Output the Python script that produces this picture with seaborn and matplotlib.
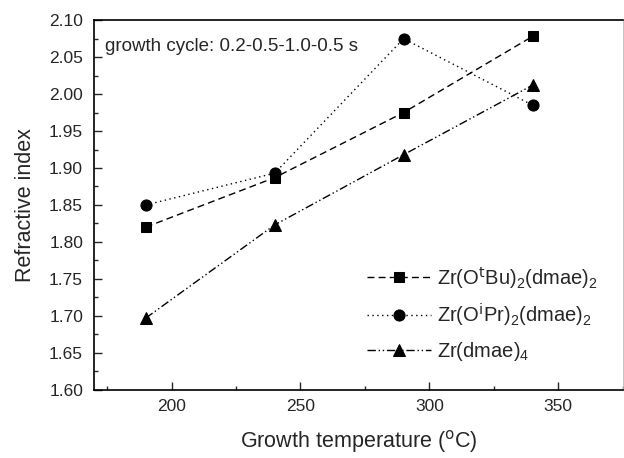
import matplotlib
matplotlib.use("Agg")
import matplotlib.pyplot as plt
from matplotlib.ticker import MultipleLocator
import seaborn as sns
import pandas as pd

# Growth temperatures (°C) and refractive index per precursor
temperature = [190, 240, 290, 340]
zr_otbu = [1.820, 1.887, 1.975, 2.078]
zr_oipr = [1.850, 1.893, 2.075, 1.985]
zr_dmae4 = [1.697, 1.823, 1.918, 2.012]

labels = [
    r"Zr(O$^{\rm t}$Bu)$_{2}$(dmae)$_{2}$",
    r"Zr(O$^{\rm i}$Pr)$_{2}$(dmae)$_{2}$",
    r"Zr(dmae)$_{4}$",
]
series = [zr_otbu, zr_oipr, zr_dmae4]

sns.set_style("ticks")
plt.rcParams["font.family"] = ["Liberation Sans", "DejaVu Sans"]
plt.rcParams["mathtext.default"] = "regular"
plt.rcParams["xtick.direction"] = "in"
plt.rcParams["ytick.direction"] = "in"

fig = plt.figure(figsize=(6.24, 4.58), dpi=100)
ax = fig.add_axes([0.151, 0.149, 0.847, 0.807])

styles = [
    dict(marker="s", linestyle=(0, (5, 3)), markersize=7),
    dict(marker="o", linestyle=(0, (1, 2.5)), markersize=8),
    dict(marker="^", linestyle=(0, (6, 2, 1, 2, 1, 2)), markersize=8),
]

for vals, lab, st in zip(series, labels, styles):
    df = pd.DataFrame({"temperature": temperature, "index": vals})
    sns.lineplot(data=df, x="temperature", y="index", ax=ax, color="black",
                 linewidth=1.0, marker=st["marker"], markersize=st["markersize"],
                 linestyle=st["linestyle"], markeredgecolor="black",
                 markerfacecolor="black", label=lab)

ax.set_xlim(170, 375)
ax.set_ylim(1.60, 2.10)
ax.xaxis.set_major_locator(MultipleLocator(50))
ax.xaxis.set_minor_locator(MultipleLocator(25))
ax.yaxis.set_major_locator(MultipleLocator(0.05))
ax.yaxis.set_minor_locator(MultipleLocator(0.025))
ax.yaxis.set_major_formatter(plt.FormatStrFormatter("%.2f"))
ax.tick_params(axis="both", which="major", length=6, width=1, labelsize=12.5)
ax.tick_params(axis="both", which="minor", length=3, width=1)
ax.tick_params(axis="x", pad=7)
ax.tick_params(axis="y", pad=8)

for side in ["left", "bottom", "top"]:
    ax.spines[side].set_linewidth(1.2)
    ax.spines[side].set_color("black")
ax.spines["right"].set_linewidth(0.6)
ax.spines["right"].set_color("#bbbbbb")

ax.set_xlabel("Growth temperature ($^{\\rm o}$C)", fontsize=15.5, labelpad=10)
ax.set_ylabel("Refractive index", fontsize=15.5, labelpad=9)

ax.text(0.02, 0.93, "growth cycle: 0.2-0.5-1.0-0.5 s", transform=ax.transAxes,
        fontsize=13.5, va="center", ha="left")

leg = ax.legend(loc="upper left", bbox_to_anchor=(0.5, 0.36), frameon=False,
                fontsize=14.5, handlelength=3.2, handletextpad=0.3,
                labelspacing=0.55, borderaxespad=0)

fig.savefig("out.png", dpi=100)
